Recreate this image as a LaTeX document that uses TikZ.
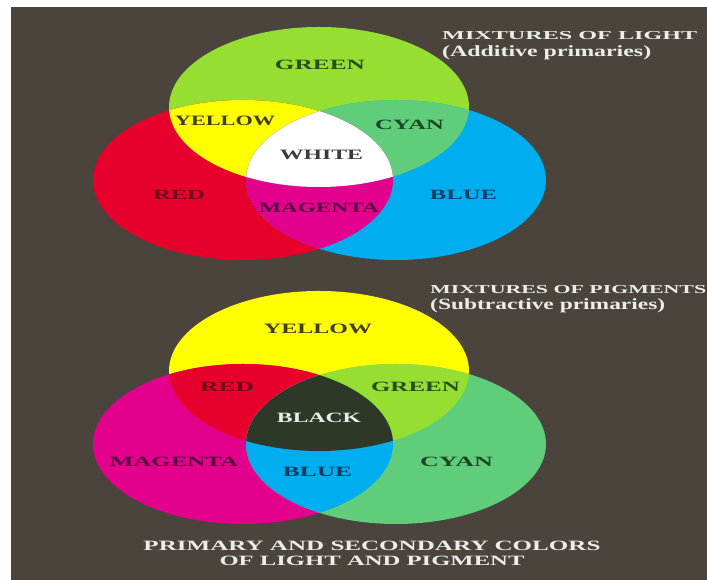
\documentclass[tikz,border=0pt]{standalone}
\usepackage{fontspec}
\setmainfont{Liberation Serif}
\usepackage{graphicx}
\definecolor{bg}{RGB}{74,68,61}
\definecolor{cgreen}{RGB}{150,222,50}
\definecolor{cred}{RGB}{232,0,45}
\definecolor{cblue}{RGB}{0,174,239}
\definecolor{cyellow}{RGB}{255,255,0}
\definecolor{ccyan}{RGB}{96,205,122}
\definecolor{cmagenta}{RGB}{226,0,140}
\definecolor{cblack}{RGB}{46,56,38}
\definecolor{tgreen}{RGB}{38,78,22}
\definecolor{tolive}{RGB}{62,62,22}
\definecolor{tred}{RGB}{105,12,30}
\definecolor{tgray}{RGB}{58,58,58}
\definecolor{tpurple}{RGB}{88,10,62}
\definecolor{tcyan}{RGB}{28,70,40}
\definecolor{tblue}{RGB}{18,58,92}
\definecolor{ttitle}{RGB}{236,236,232}
\newcommand\lb[2]{\resizebox{#1pt}{\totalheight}{#2}}
\begin{document}
\begin{tikzpicture}[x=1pt,y=1pt,
  lbl/.style={inner sep=0pt, font=\bfseries\fontsize{14}{16}\selectfont},
  ttl/.style={inner sep=0pt, anchor=west, text=ttitle, font=\bfseries\fontsize{12}{14}\selectfont},
  captext/.style={inner sep=0pt, text=ttitle, font=\bfseries\fontsize{14}{16}\selectfont}]
\useasboundingbox (0,0) rectangle (707,580);
\clip (0,0) rectangle (707,580);
\fill[white] (0,0) rectangle (707,580);
\fill[bg] (11,0) rectangle (707,573);
% ---------- additive (light) ----------
\def\Ea{(319,473) ellipse [x radius=150pt, y radius=80pt]}
\def\Eb{(243,400) ellipse [x radius=150pt, y radius=80pt]}
\def\Ec{(396,400) ellipse [x radius=150pt, y radius=80pt]}
\fill[cgreen] \Ea;
\fill[cred] \Eb;
\fill[cblue] \Ec;
\begin{scope}\clip \Ea; \fill[cyellow] \Eb; \fill[ccyan] \Ec; \end{scope}
\begin{scope}\clip \Eb; \fill[cmagenta] \Ec; \end{scope}
\begin{scope}\clip \Ea; \clip \Eb; \fill[white] \Ec; \end{scope}
\node[lbl, text=tgreen] (lgreen) at (320,515) {\lb{90}{GREEN}};
\node[lbl, text=tolive] (lyellow) at (225,459) {\lb{100}{YELLOW}};
\node[lbl, text=tcyan] (lcyan) at (409.5,455) {\lb{69}{CYAN}};
\node[lbl, text=tgray] (lwhite) at (321.5,425) {\lb{83}{WHITE}};
\node[lbl, text=tred] (lred) at (179,385) {\lb{52}{RED}};
\node[lbl, text=tpurple] (lmagenta) at (319,372) {\lb{120}{MAGENTA}};
\node[lbl, text=tblue] (lblue) at (463.5,385) {\lb{67}{BLUE}};
\node[ttl] (tlight1) at (442,544) {\lb{255}{MIXTURES OF LIGHT}};
\node[ttl] (tlight2) at (442,527) {\lb{209}{(Additive primaries)}};
% ---------- subtractive (pigment) ----------
\def\Pa{(319,209) ellipse [x radius=150pt, y radius=80pt]}
\def\Pb{(243,136) ellipse [x radius=150pt, y radius=80pt]}
\def\Pc{(396,136) ellipse [x radius=150pt, y radius=80pt]}
\fill[cyellow] \Pa;
\fill[cmagenta] \Pb;
\fill[ccyan] \Pc;
\begin{scope}\clip \Pa; \fill[cred] \Pb; \fill[cgreen] \Pc; \end{scope}
\begin{scope}\clip \Pb; \fill[cblue] \Pc; \end{scope}
\begin{scope}\clip \Pa; \clip \Pb; \fill[cblack] \Pc; \end{scope}
\node[lbl, text=tolive] (pyellow) at (318,251) {\lb{108}{YELLOW}};
\node[lbl, text=tred] (pred) at (227,193) {\lb{54}{RED}};
\node[lbl, text=tgreen] (pgreen) at (415.5,193) {\lb{89}{GREEN}};
\node[lbl, text=ttitle] (pblack) at (319,162) {\lb{84}{BLACK}};
\node[lbl, text=tpurple] (pmagenta) at (174,118) {\lb{128}{MAGENTA}};
\node[lbl, text=tblue] (pblue) at (317.5,108) {\lb{69}{BLUE}};
\node[lbl, text=tcyan] (pcyan) at (456.5,118) {\lb{73}{CYAN}};
\node[ttl] (tpig1) at (430,290.5) {\lb{276}{MIXTURES OF PIGMENTS}};
\node[ttl] (tpig2) at (430,274.5) {\lb{235}{(Subtractive primaries)}};
% ---------- caption ----------
\node[captext] (cap1) at (372,34) {\lb{457}{PRIMARY AND SECONDARY COLORS}};
\node[captext] (cap2) at (372,19) {\lb{305}{OF LIGHT AND PIGMENT}};
\end{tikzpicture}
\end{document}
